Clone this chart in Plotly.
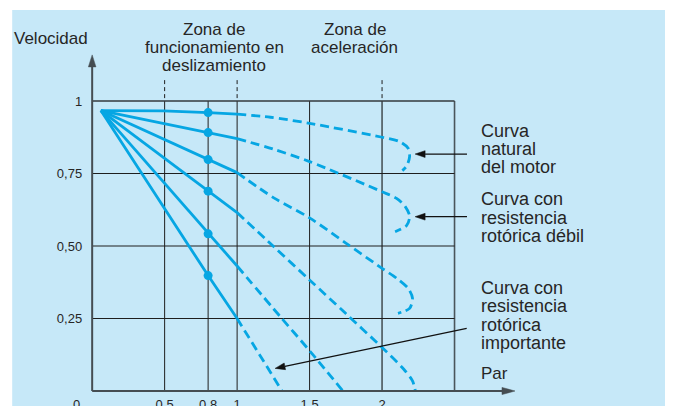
import plotly.graph_objects as go

# ejes
x_ticks = [0.5, 0.8, 1, 1.5, 2]
x_labels = ["0,5", "0,8", "1", "1,5", "2"]
y_ticks = [0.25, 0.5, 0.75, 1]
y_labels = ["0,25", "0,50", "0,75", "1"]
par_max = 2.5
zone_marks = [0.5, 1, 2]
dot_par = 0.8

# tramo continuo de cada curva (par, velocidad)
solid_par = [
    [0.06, 0.49, 0.8, 1.0],
    [0.06, 0.8, 1.0],
    [0.06, 0.8, 1.0],
    [0.06, 0.8, 1.0],
    [0.06, 0.8, 1.0],
    [0.06, 0.8, 1.0],
]
solid_vel = [
    [0.967, 0.966, 0.960, 0.955],
    [0.967, 0.891, 0.870],
    [0.967, 0.798, 0.753],
    [0.967, 0.689, 0.615],
    [0.967, 0.542, 0.431],
    [0.967, 0.398, 0.250],
]

# tramo punteado (zona de aceleracion)
dash_par = [
    [1.0, 1.23, 1.5, 2.0, 2.12, 2.18, 2.19, 2.17, 2.14],
    [1.0, 1.25, 1.5, 2.0, 2.10, 2.16, 2.19, 2.17, 2.09],
    [1.0, 1.25, 1.5, 1.75, 2.0, 2.10, 2.18, 2.21, 2.19, 2.11],
    [1.0, 1.25, 1.5, 1.75, 2.0, 2.15, 2.21, 2.23],
    [1.0, 1.3, 1.5, 1.73],
    [1.0, 1.31],
]
dash_vel = [
    [0.955, 0.944, 0.923, 0.875, 0.860, 0.837, 0.808, 0.776, 0.760],
    [0.870, 0.834, 0.791, 0.687, 0.664, 0.636, 0.603, 0.571, 0.549],
    [0.753, 0.667, 0.597, 0.510, 0.423, 0.389, 0.354, 0.320, 0.285, 0.268],
    [0.615, 0.499, 0.383, 0.267, 0.150, 0.075, 0.035, 0.0],
    [0.431, 0.255, 0.139, 0.0],
    [0.250, 0.0],
]

label_natural = ["Curva", "natural", "del motor"]
label_debil = ["Curva con", "resistencia", "rotórica débil"]
label_importante = ["Curva con", "resistencia", "rotórica", "importante"]
zona_1 = ["Zona de", "funcionamiento en", "deslizamiento"]
zona_2 = ["Zona de", "aceleración"]

BLUE = "#06a6e3"
BG = "#c6e8f8"
TXT = "#262626"
FONT = "Liberation Sans, Arial, sans-serif"

# la pagina deja 8px de margen en el body: la figura se reduce para caber
OFF = 8
W, H = 673 - OFF, 406 - OFF
M = dict(l=2.8, r=146, t=6, b=0, autoexpand=False)
x_range = [-0.56, 3.0]
y_range = [-15 / 290, 1.3]
SX = (W - M["l"] - M["r"]) / (x_range[1] - x_range[0])
SY = (H - M["t"] - M["b"]) / (y_range[1] - y_range[0])


def paper_x(px):
    return (px - OFF - M["l"]) / (W - M["l"] - M["r"])


def paper_y(py):
    return (H - M["b"] - (py - OFF)) / (H - M["t"] - M["b"])


fig = go.Figure()

for i in range(len(solid_par)):
    fig.add_trace(go.Scatter(x=solid_par[i], y=solid_vel[i], mode="lines",
                             line=dict(color=BLUE, width=2.8), hoverinfo="skip"))
    fig.add_trace(go.Scatter(x=dash_par[i], y=dash_vel[i], mode="lines",
                             line=dict(color=BLUE, width=2.8, dash="9px,5px",
                                       shape="spline", smoothing=0.8),
                             hoverinfo="skip"))

dots = [solid_vel[i][solid_par[i].index(dot_par)] for i in range(len(solid_par))]
fig.add_trace(go.Scatter(x=[dot_par] * len(dots), y=dots, mode="markers",
                         marker=dict(color=BLUE, size=9), hoverinfo="skip"))

shapes = []
# fondo celeste
shapes.append(dict(type="rect", xref="paper", yref="paper", layer="below",
                   x0=paper_x(12), x1=paper_x(670), y0=-0.01, y1=paper_y(10),
                   fillcolor=BG, line=dict(width=0)))

# cuadricula
for xv in x_ticks + [par_max]:
    heavy = xv >= 2
    shapes.append(dict(type="line", xref="x", yref="y", layer="below",
                       x0=xv, x1=xv, y0=0, y1=1,
                       line=dict(color="#4a555b" if heavy else "#1e1e1e",
                                 width=1.6 if heavy else 1)))
for yv in y_ticks:
    shapes.append(dict(type="line", xref="x", yref="y", layer="below",
                       x0=0, x1=par_max, y0=yv, y1=yv,
                       line=dict(color="#333a3e" if yv == 1 else "#1e1e1e",
                                 width=1.3 if yv == 1 else 1)))
for xv in zone_marks:
    shapes.append(dict(type="line", xref="x", yref="y", layer="below",
                       x0=xv, x1=xv, y0=1.072, y1=1.004,
                       line=dict(color="#1e1e1e", width=1, dash="4px,3px")))


def arrow(x0, y0, x1, y1, length, half, color, width):
    ux = (x1 - x0) * SX
    uy = (y1 - y0) * SY
    n = (ux ** 2 + uy ** 2) ** 0.5
    ux, uy = ux / n, uy / n
    bx = x1 * SX - ux * length
    by = y1 * SY - uy * length
    shapes.append(dict(type="line", xref="x", yref="y", x0=x0, y0=y0,
                       x1=bx / SX, y1=by / SY, line=dict(color=color, width=width)))
    p1 = ((bx - uy * half) / SX, (by + ux * half) / SY)
    p2 = ((bx + uy * half) / SX, (by - ux * half) / SY)
    shapes.append(dict(type="path", xref="x", yref="y",
                       path=f"M{x1},{y1} L{p1[0]},{p1[1]} L{p2[0]},{p2[1]} Z",
                       fillcolor=color, line=dict(color=color, width=0.5)))


# ejes con flecha
arrow(0, 0, 2.917, 0, 13, 3.6, "#454d52", 2)
arrow(0, 0, 0, 1.159, 12, 3.8, "#454d52", 2)

# flechas de las etiquetas
arrow(2.586, 0.817, 2.228, 0.817, 10, 3.4, "#111111", 1.2)
arrow(2.586, 0.601, 2.228, 0.601, 10, 3.4, "#111111", 1.2)
arrow(2.584, 0.216, 1.262, 0.078, 10, 3.4, "#111111", 1.2)


def add_lines(lines, x, y_top, size, anchor="left", step=18.4):
    for k, t in enumerate(lines):
        fig.add_annotation(x=x, y=y_top - k * step / SY, text=t, showarrow=False,
                           xanchor=anchor, yanchor="middle", borderpad=0,
                           font=dict(size=size, color=TXT, family=FONT))


add_lines(label_natural, 2.676, 0.898, 18)
add_lines(label_debil, 2.676, 0.661, 18)
add_lines(label_importante, 2.676, 0.356, 18)
add_lines(["Par"], 2.676, 0.059, 17)
add_lines(zona_1, 0.841, 1.248, 17, anchor="center")
add_lines(zona_2, 1.81, 1.248, 17, anchor="center")
add_lines(["Velocidad"], -0.545, 1.216, 17)
add_lines(["0"], -0.076, -0.045, 13, anchor="right")

fig.update_layout(
    width=W, height=H, margin=M,
    paper_bgcolor="white", plot_bgcolor="rgba(0,0,0,0)",
    showlegend=False, hovermode=False,
    font=dict(family=FONT, color=TXT),
    shapes=shapes,
)
fig.update_xaxes(range=x_range, tickvals=x_ticks, ticktext=x_labels,
                 anchor="free", position=paper_y(391), showgrid=False,
                 zeroline=False, showline=False, ticks="", ticklabelstandoff=4,
                 automargin=False,
                 tickfont=dict(size=13, color=TXT, family=FONT))
fig.update_yaxes(range=y_range, tickvals=y_ticks, ticktext=y_labels,
                 anchor="free", position=paper_x(92), showgrid=False,
                 zeroline=False, showline=False, ticks="", ticklabelstandoff=10,
                 automargin=False,
                 tickfont=dict(size=13, color=TXT, family=FONT))

fig.write_html("out.html")
